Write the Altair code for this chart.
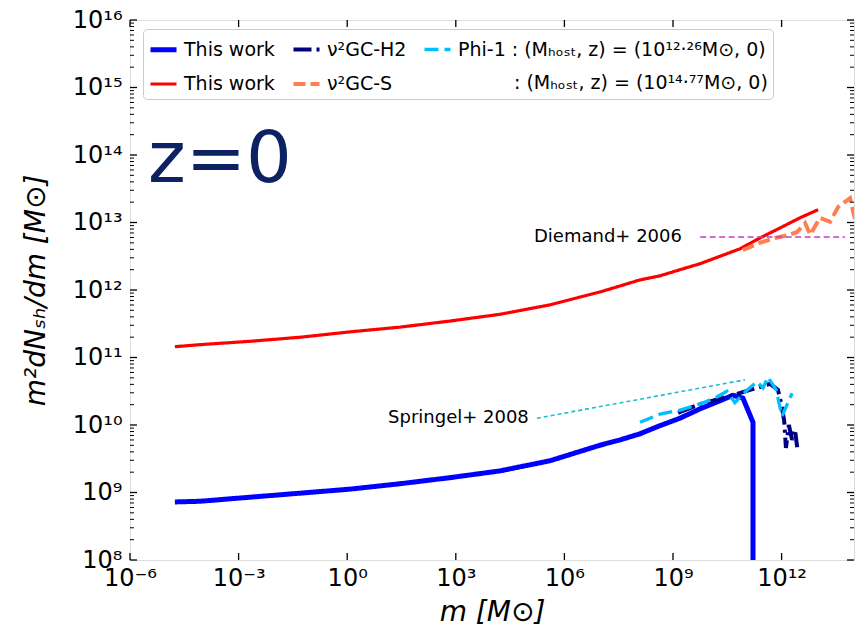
import altair as alt
import pandas as pd

# ---------------- data (log10 values) ----------------
# "This work", host 10^12.26 (blue)
blue_log_m = [-4.76, -4.07, -2.69, -1.30, 0.08, 1.46, 2.84, 4.22, 5.60, 6.98,
              7.54, 8.09, 8.64, 9.19, 9.75, 10.30, 10.66, 10.93, 11.21, 11.21]
blue_log_y = [8.86, 8.87, 8.93, 8.99, 9.05, 9.13, 9.22, 9.32, 9.47, 9.70,
              9.78, 9.87, 9.99, 10.10, 10.24, 10.36, 10.44, 10.40, 10.04, 5.0]
# nu2GC-H2 (navy)
navy_log_m = [9.14, 9.75, 10.30, 10.77, 11.32, 11.68, 11.90, 11.98, 12.07,
              12.12, 12.20, 12.29, 12.37, 12.43]
navy_log_y = [10.18, 10.31, 10.39, 10.46, 10.55, 10.61, 10.52, 10.34, 10.07,
              9.66, 10.00, 9.78, 9.93, 9.67]
# Phi-1 (light blue)
cyan_log_m = [8.09, 8.64, 9.19, 9.75, 10.16, 10.49, 10.71, 10.99, 11.32,
              11.49, 11.62, 11.85, 12.01, 12.29]
cyan_log_y = [10.04, 10.16, 10.22, 10.31, 10.40, 10.50, 10.33, 10.49, 10.64,
              10.55, 10.71, 10.52, 10.13, 10.47]
# "This work", host 10^14.77 (red)
red_log_m = [-4.76, -4.07, -2.69, -1.30, 0.08, 1.46, 2.84, 4.22, 5.60, 6.98,
             8.09, 8.64, 9.19, 9.75, 10.30, 10.85, 11.40, 11.96, 12.51, 13.01]
red_log_y = [11.16, 11.19, 11.24, 11.30, 11.38, 11.45, 11.54, 11.64, 11.78, 11.97,
             12.15, 12.21, 12.30, 12.39, 12.50, 12.61, 12.77, 12.92, 13.07, 13.19]
# nu2GC-S (coral)
orange_log_m = [10.93, 11.40, 11.82, 12.23, 12.43, 12.65, 12.79, 13.06, 13.34,
                13.56, 13.89, 14.00, 14.11]
orange_log_y = [12.59, 12.70, 12.77, 12.82, 12.86, 12.99, 12.82, 13.07, 13.01,
                13.23, 13.36, 13.11, 12.89]

# reference annotations
diemand_log_m = [9.75, 13.75]
diemand_log_y = [12.785, 12.785]
springel_log_m = [5.24, 10.99]
springel_log_y = [10.10, 10.67]
annot_text = ["Diemand+ 2006", "Springel+ 2008"]
annot_log_m = [9.33, 5.10]
annot_log_y = [12.785, 10.10]

panel_label = ["z=0"]

x_tick_exps = [-6, -3, 0, 3, 6, 9, 12]
y_tick_exps = [8, 9, 10, 11, 12, 13, 14, 15, 16]

# legend order (column-major, 2 rows x 3 columns)
series_keys = ["a", "b", "c", "d", "e", "f"]
series_labels = [
    "This work",
    "This work",
    "\u03bd\u00b2GC-H2",
    "\u03bd\u00b2GC-S",
    "Phi-1 : (M\u2095\u2092\u209b\u209c, z) = (10\u00b9\u00b2\u00b7\u00b2\u2076M\u2299, 0)",
    "\u200b" + "\u2007" * 4 + "\u2009\u2009" + ": (M\u2095\u2092\u209b\u209c, z) = (10\u00b9\u2074\u00b7\u2077\u2077M\u2299, 0)",
]
series_colors = ["#0000ff", "#ff0000", "#000080", "#ff7f50", "#00bfff", "transparent"]
series_dashes = [[1, 0], [1, 0], [18, 5, 3, 5], [12, 5], [14, 6], [1, 0]]
series_widths = [5, 3.2, 4, 4, 3.3, 1]

# ---------------- tables ----------------
rows = []
for key, lm, ly in [("a", blue_log_m, blue_log_y), ("c", navy_log_m, navy_log_y),
                    ("e", cyan_log_m, cyan_log_y), ("b", red_log_m, red_log_y),
                    ("d", orange_log_m, orange_log_y)]:
    for i, (xm, yv) in enumerate(zip(lm, ly)):
        rows.append({"series": key, "m": 10 ** xm, "v": 10 ** yv, "i": i})
df = pd.DataFrame(rows)

diemand = pd.DataFrame({"m": [10 ** v for v in diemand_log_m], "v": [10 ** v for v in diemand_log_y]})
springel = pd.DataFrame({"m": [10 ** v for v in springel_log_m], "v": [10 ** v for v in springel_log_y]})
annots = pd.DataFrame({"m": [10 ** v for v in annot_log_m], "v": [10 ** v for v in annot_log_y], "t": annot_text})

yminor = pd.DataFrame({"v": [k * 10 ** e for e in y_tick_exps[:-1] for k in range(2, 10)]})
ymajor = pd.DataFrame({"v": [10 ** e for e in y_tick_exps]})
xmajor = pd.DataFrame({"m": [10 ** e for e in x_tick_exps]})

SUP = {"-": "\u207b", "0": "\u2070", "1": "\u00b9", "2": "\u00b2", "3": "\u00b3",
       "4": "\u2074", "5": "\u2075", "6": "\u2076", "7": "\u2077", "8": "\u2078", "9": "\u2079"}


def sup(e):
    return "".join(SUP[c] for c in str(e))


def label_expr(exps):
    parts = [f"round(log(datum.value)/LN10) == {e} ? '10{sup(e)}'" for e in exps]
    return " : ".join(parts) + " : ''"


legend_expr = " : ".join(f"datum.label == '{k}' ? '{l}'" for k, l in zip(series_keys, series_labels)) + " : ''"

W, H = 724, 540
FONT = "DejaVu Sans"

xs = alt.Scale(type="log", domain=[1e-6, 1e14], nice=False)
ys = alt.Scale(type="log", domain=[1e8, 1e16], nice=False)

legend = alt.Legend(
    orient="none", legendX=13, legendY=9, columns=3, title=None,
    labelFont=FONT, labelFontSize=19, labelColor="black", labelLimit=600,
    symbolType="stroke", symbolSize=676, labelOffset=5,
    columnPadding=10, rowPadding=9, padding=5,
    fillColor="rgba(255,255,255,0.85)", strokeColor="#cccccc", cornerRadius=4,
    labelExpr=legend_expr,
)

lines = alt.Chart(df).mark_line(clip=True).encode(
    x=alt.X("m:Q", scale=xs, title="m [M\u2299]",
            axis=alt.Axis(values=[10 ** e for e in x_tick_exps], labelExpr=label_expr(x_tick_exps),
                          ticks=False, domain=False, grid=False, labelPadding=6,
                          labelFont=FONT, labelFontSize=24, labelColor="black",
                          titleFont=FONT, titleFontSize=28, titleFontStyle="italic",
                          titleFontWeight="normal", titleColor="black", titlePadding=8,
                          labelFlush=False, labelOverlap=False)),
    y=alt.Y("v:Q", scale=ys, title="m\u00b2dN\u209b\u2095/dm [M\u2299]",
            axis=alt.Axis(values=[10 ** e for e in y_tick_exps], labelExpr=label_expr(y_tick_exps),
                          ticks=False, domain=False, grid=False, labelPadding=8,
                          labelFont=FONT, labelFontSize=24, labelColor="black",
                          titleFont=FONT, titleFontSize=28, titleFontStyle="italic",
                          titleFontWeight="normal", titleColor="black", titlePadding=22,
                          labelFlush=False, labelOverlap=False)),
    color=alt.Color("series:N", scale=alt.Scale(domain=series_keys, range=series_colors), legend=legend),
    strokeDash=alt.StrokeDash("series:N", scale=alt.Scale(domain=series_keys, range=series_dashes), legend=legend),
    strokeWidth=alt.StrokeWidth("series:N", scale=alt.Scale(type="ordinal", domain=series_keys, range=series_widths), legend=legend),
    order=alt.Order("i:Q"),
)

diemand_line = alt.Chart(diemand).mark_line(clip=True, color="#c040c8", strokeWidth=1.6, strokeDash=[6, 3.5]).encode(
    x=alt.X("m:Q", scale=xs), y=alt.Y("v:Q", scale=ys))
springel_line = alt.Chart(springel).mark_line(clip=True, color="#1cc0cc", strokeWidth=1.6, strokeDash=[4, 3]).encode(
    x=alt.X("m:Q", scale=xs), y=alt.Y("v:Q", scale=ys))
annot_text_layer = alt.Chart(annots).mark_text(align="right", baseline="middle", font=FONT, fontSize=18,
                                               color="black", dx=-3).encode(
    x=alt.X("m:Q", scale=xs), y=alt.Y("v:Q", scale=ys), text="t:N")

zlabel = alt.Chart(pd.DataFrame({"t": panel_label})).mark_text(
    align="left", baseline="alphabetic", font=FONT, fontSize=72, color="#0d2263").encode(
    x=alt.value(18), y=alt.value(162), text="t:N")

tick_color = "black"
y_major_l = alt.Chart(ymajor).mark_rule(color=tick_color, strokeWidth=1.3).encode(
    y=alt.Y("v:Q", scale=ys), x=alt.value(0), x2=alt.value(7))
y_major_r = alt.Chart(ymajor).mark_rule(color=tick_color, strokeWidth=1.3).encode(
    y=alt.Y("v:Q", scale=ys), x=alt.value(W - 7), x2=alt.value(W))
y_minor_l = alt.Chart(yminor).mark_rule(color=tick_color, strokeWidth=1).encode(
    y=alt.Y("v:Q", scale=ys), x=alt.value(0), x2=alt.value(4))
y_minor_r = alt.Chart(yminor).mark_rule(color=tick_color, strokeWidth=1).encode(
    y=alt.Y("v:Q", scale=ys), x=alt.value(W - 4), x2=alt.value(W))
x_major_b = alt.Chart(xmajor).mark_rule(color=tick_color, strokeWidth=1.3).encode(
    x=alt.X("m:Q", scale=xs), y=alt.value(H - 7), y2=alt.value(H))
x_major_t = alt.Chart(xmajor).mark_rule(color=tick_color, strokeWidth=1.3).encode(
    x=alt.X("m:Q", scale=xs), y=alt.value(0), y2=alt.value(7))

chart = alt.layer(
    lines, diemand_line, springel_line, annot_text_layer, zlabel,
    y_major_l, y_major_r, y_minor_l, y_minor_r, x_major_b, x_major_t,
).properties(
    width=W, height=H,
    autosize=alt.AutoSizeParams(type="none"),
    padding={"left": 130, "top": 20, "right": 5, "bottom": 77},
).configure_view(
    stroke="black", strokeWidth=1.5,
).configure(background="white")

chart.save("out.html", embed_options={"renderer": "svg", "actions": False})
